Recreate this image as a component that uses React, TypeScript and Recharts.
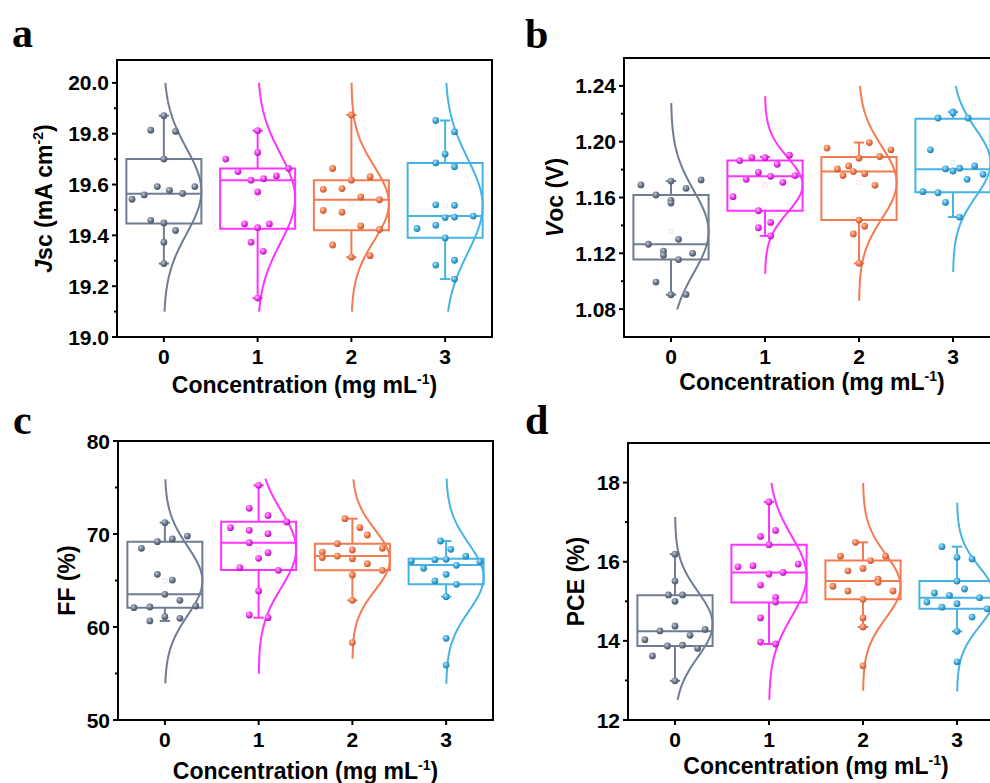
import React from "react";
import { ComposedChart, XAxis, YAxis, Scatter, Line, ReferenceArea, ReferenceLine } from "recharts";

const SANS = "Arial, 'Liberation Sans', Helvetica, sans-serif";
const SERIF = "'Times New Roman', 'Liberation Serif', serif";

const categories = [0, 1, 2, 3];
const lineColors = ["#6f7c92", "#ff33ff", "#f47a50", "#45b4e4"];
// light / mid / dark for the shaded dots
const dotColors = [
  ["#c6ccd6", "#6b778c", "#4a5466"],
  ["#ffb8ff", "#f03cf0", "#b80fb8"],
  ["#ffc7b0", "#f07a4e", "#c2552d"],
  ["#b8e4f8", "#3ea9dc", "#1f7fae"],
];

// points: [offset from category, value]
const jscPoints = [
  [[0, 19.871], [-0.14, 19.814], [0.125, 19.809], [0, 19.7], [-0.34, 19.542], [-0.21, 19.559], [-0.07, 19.592], [0.06, 19.577], [0.2, 19.565], [0.33, 19.592], [-0.14, 19.459], [0, 19.449], [0.125, 19.419], [0, 19.373], [0, 19.289]],
  [[0, 19.812], [0, 19.726], [-0.34, 19.7], [-0.21, 19.651], [-0.07, 19.617], [0.064, 19.623], [0.2, 19.634], [0.33, 19.663], [0, 19.571], [-0.14, 19.445], [0.125, 19.445], [0, 19.43], [-0.07, 19.373], [0.06, 19.337], [0, 19.153]],
  [[0, 19.874], [-0.2, 19.663], [0.2, 19.631], [0, 19.617], [-0.3, 19.581], [-0.1, 19.584], [0.1, 19.551], [0.3, 19.54], [-0.3, 19.498], [-0.1, 19.491], [0.1, 19.437], [0.3, 19.423], [-0.2, 19.362], [0.2, 19.32], [0, 19.314]],
  [[-0.1, 19.852], [0.1, 19.808], [0, 19.72], [-0.1, 19.685], [0.1, 19.67], [-0.1, 19.52], [0.1, 19.518], [0, 19.47], [0.1, 19.472], [0.3, 19.476], [-0.3, 19.427], [-0.1, 19.44], [0, 19.39], [-0.1, 19.283], [0.1, 19.302], [0.1, 19.228]],
];
// [min, q1, median, q3, max]
const jscBoxes = [
  [19.289, 19.447, 19.564, 19.7, 19.871],
  [19.153, 19.426, 19.617, 19.663, 19.812],
  [19.314, 19.42, 19.54, 19.617, 19.874],
  [19.228, 19.391, 19.476, 19.685, 19.852],
];
const jscCurveRanges = [[19.1, 20.0], [19.1, 20.0], [19.1, 20.0], [19.1, 20.0]];
const jscMajorTicks = [19.0, 19.2, 19.4, 19.6, 19.8, 20.0];
const jscMinorTicks = [19.1, 19.3, 19.5, 19.7, 19.9];

const vocPoints = [
  [[-0.32, 1.169], [0.32, 1.1726], [0.16, 1.1666], [0, 1.1718], [-0.16, 1.1618], [0, 1.158], [0, 1.156], [0.08, 1.13], [-0.24, 1.1265], [-0.08, 1.1215], [-0.08, 1.1186], [0.23, 1.12], [0.08, 1.1155], [-0.16, 1.0994], [0, 1.0903], [0.16, 1.0905]],
  [[-0.27, 1.1865], [-0.14, 1.1886], [0, 1.1885], [0.13, 1.1838], [0.26, 1.1903], [-0.07, 1.178], [0.06, 1.1752], [-0.2, 1.173], [0.19, 1.1709], [0.32, 1.1757], [-0.34, 1.1606], [-0.07, 1.1505], [0.06, 1.1421], [-0.07, 1.1383], [0.06, 1.1325]],
  [[-0.34, 1.1954], [0.11, 1.1994], [0.34, 1.1942], [0.22, 1.1894], [0, 1.1882], [-0.23, 1.1805], [-0.11, 1.1826], [-0.06, 1.1786], [-0.17, 1.1757], [0.06, 1.1771], [0.17, 1.1687], [0, 1.1438], [0.06, 1.1394], [-0.06, 1.1339], [0, 1.1128]],
  [[0, 1.2213], [0, 1.2205], [-0.16, 1.217], [0.16, 1.217], [-0.24, 1.1942], [-0.08, 1.1805], [0, 1.179], [0.07, 1.181], [0.23, 1.1826], [0.15, 1.173], [0.32, 1.1766], [-0.32, 1.1642], [-0.16, 1.1634], [-0.08, 1.1565], [0.07, 1.146]],
];
const vocBoxes = [
  [1.0903, 1.1155, 1.1265, 1.1618, 1.1718],
  [1.1325, 1.1505, 1.1752, 1.1865, 1.1891],
  [1.1128, 1.1438, 1.1786, 1.1891, 1.1994],
  [1.146, 1.1637, 1.1802, 1.2165, 1.2213],
];
const vocCurveRanges = [[1.0797, 1.2278], [1.1054, 1.2326], [1.086, 1.24], [1.1066, 1.24]];
const vocMajorTicks = [1.08, 1.12, 1.16, 1.2, 1.24];
const vocMinorTicks = [1.1, 1.14, 1.18, 1.22];

const ffPoints = [
  [[0, 71.22], [-0.08, 69.18], [0.08, 69.46], [0.24, 69.78], [-0.25, 68.46], [-0.08, 65.66], [0.08, 65.05], [0, 63.51], [0.16, 62.87], [-0.33, 62.08], [-0.16, 62.15], [0.33, 62.26], [0, 61.11], [-0.16, 60.65], [0.16, 60.93]],
  [[0, 75.23], [-0.1, 72.76], [0.1, 72.0], [0.3, 71.29], [-0.3, 70.68], [-0.1, 70.39], [0.1, 70.04], [-0.1, 69.07], [0, 67.38], [0.1, 67.99], [-0.2, 66.38], [0.21, 66.09], [0, 63.87], [-0.1, 61.29], [0.1, 61.0]],
  [[-0.08, 71.65], [0.08, 70.68], [0.16, 69.89], [-0.16, 68.96], [-0.32, 68.06], [-0.32, 67.46], [0, 68.28], [0.32, 68.46], [-0.16, 67.63], [0, 67.35], [0.16, 66.81], [0.32, 66.09], [0, 65.59], [0, 62.87], [0, 58.32]],
  [[-0.06, 69.25], [0.05, 68.35], [-0.37, 67.1], [-0.12, 67.24], [0, 67.28], [0.21, 67.63], [0.36, 67.03], [-0.24, 66.31], [0.11, 66.63], [0, 65.66], [-0.12, 64.95], [0.11, 64.59], [0, 63.26], [0, 58.78], [0, 55.91]],
];
const ffBoxes = [
  [60.65, 62.08, 63.51, 69.18, 71.22],
  [61.0, 66.13, 69.07, 71.33, 75.23],
  [62.87, 66.09, 67.63, 68.96, 71.65],
  [63.26, 64.59, 66.67, 67.35, 69.25],
];
const ffCurveRanges = [[53.94, 75.88], [54.98, 75.95], [56.6, 75.88], [53.9, 75.95]];
const ffMajorTicks = [50, 60, 70, 80];
const ffMinorTicks = [55, 65, 75];

const pcePoints = [
  [[0, 16.19], [0, 15.51], [-0.07, 15.16], [0.08, 15.16], [0, 15.0], [0, 14.37], [-0.16, 14.25], [0.32, 14.29], [0.16, 14.14], [-0.32, 14.03], [-0.08, 13.87], [0.08, 13.89], [0.24, 13.81], [-0.24, 13.62], [0, 12.99]],
  [[0, 17.51], [0.07, 16.79], [-0.09, 16.64], [0, 16.43], [-0.33, 15.87], [-0.17, 15.9], [0.31, 15.94], [0, 15.69], [0.15, 15.73], [-0.09, 15.41], [0.07, 15.1], [0.07, 14.98], [-0.09, 14.58], [-0.09, 13.97], [0.07, 13.92]],
  [[-0.08, 16.49], [-0.24, 16.14], [0.24, 16.14], [0.08, 16.03], [-0.16, 15.77], [0, 15.83], [0.16, 15.56], [0.16, 15.48], [-0.32, 15.38], [-0.16, 15.26], [0.32, 15.26], [0, 15.05], [0, 14.58], [0, 14.35], [0, 13.37]],
  [[-0.16, 16.38], [0, 16.11], [0.16, 16.07], [0, 15.51], [0.08, 15.31], [-0.24, 15.21], [-0.08, 15.15], [0.24, 15.09], [-0.32, 14.98], [-0.16, 14.85], [0, 14.94], [0.32, 14.81], [0.16, 14.6], [0, 14.24], [0, 13.47]],
];
const pceBoxes = [
  [12.99, 13.87, 14.24, 15.15, 16.19],
  [13.92, 14.97, 15.73, 16.43, 17.51],
  [14.35, 15.05, 15.51, 16.03, 16.49],
  [14.24, 14.81, 15.09, 15.51, 16.38],
];
const pceCurveRanges = [[12.51, 17.13], [12.51, 17.99], [12.74, 17.99], [12.72, 17.49]];
const pceMajorTicks = [12, 14, 16, 18];
const pceMinorTicks = [13, 15, 17];

const BOX_HALF = 0.4;
const CAP_HALF = 0.055;
const CURVE_PEAK = 0.4;
const CURVE_STEPS = 60;

function meanSd(vals: number[]) {
  const m = vals.reduce((s, v) => s + v, 0) / vals.length;
  const v = vals.reduce((s, x) => s + (x - m) * (x - m), 0) / (vals.length - 1);
  return [m, Math.sqrt(v)];
}

// fitted normal curve of a group, drawn to the right of its category
function normalCurve(c: number, range: number[], vals: number[]) {
  const [m, s] = meanSd(vals);
  const [lo, hi] = range;
  const pts = [];
  for (let i = 0; i <= CURVE_STEPS; i++) {
    const y = hi - ((hi - lo) * i) / CURVE_STEPS;
    pts.push({ x: c + CURVE_PEAK * Math.exp(-((y - m) * (y - m)) / (2 * s * s)), y });
  }
  return pts;
}

function XTick({ x, y, payload }: any) {
  return (
    <text x={x} y={y} dy="0.71em" textAnchor="middle" fontFamily={SANS} fontWeight="bold" fontSize={21} fill="#000">
      {payload.value}
    </text>
  );
}

function YTick({ x, y, payload, majors, digits }: any) {
  const v = payload.value;
  const isMajor = majors.some((t: number) => Math.abs(t - v) < 1e-9);
  const ax = x + 8;
  return (
    <g>
      <line x1={ax} x2={ax - (isMajor ? 5 : 3)} y1={y} y2={y} stroke="#000" strokeWidth={2} />
      {isMajor && (
        <text x={x} y={y} dy="0.36em" textAnchor="end" fontFamily={SANS} fontWeight="bold" fontSize={21} fill="#000">
          {v.toFixed(digits)}
        </text>
      )}
    </g>
  );
}

function YTitle({ viewBox, dx, children }: any) {
  if (!viewBox) return null;
  const cx = viewBox.x + dx;
  const cy = viewBox.y + viewBox.height / 2;
  return (
    <text
      x={cx}
      y={cy}
      dy="0.36em"
      transform={`rotate(-90, ${cx}, ${cy})`}
      textAnchor="middle"
      fontFamily={SANS}
      fontWeight="bold"
      fontSize={23}
      fill="#000"
    >
      {children}
    </text>
  );
}

function XTitle({ viewBox, dy }: any) {
  if (!viewBox) return null;
  const cx = viewBox.x + viewBox.width / 2;
  return (
    <text x={cx} y={viewBox.y + dy} textAnchor="middle" fontFamily={SANS} fontWeight="bold" fontSize={23} fill="#000">
      Concentration (mg mL
      <tspan fontSize={14} dy={-9}>-1</tspan>
      <tspan dy={9}>)</tspan>
    </text>
  );
}

function Dot({ cx, cy, fill }: any) {
  if (cx == null || cy == null) return null;
  return <circle cx={cx} cy={cy} r={3.4} fill={fill} />;
}

function MeanMark({ cx, cy, stroke }: any) {
  if (cx == null || cy == null) return null;
  return <rect x={cx - 2} y={cy - 2} width={4} height={4} fill="none" stroke={stroke} strokeOpacity={0.22} strokeWidth={0.8} />;
}

type PanelProps = {
  id: string;
  left: number;
  top: number;
  plotW: number;
  plotH: number;
  points: number[][][];
  boxes: number[][];
  ranges: number[][];
  domain: number[];
  majors: number[];
  minors: number[];
  digits: number;
  yTitle: React.ReactNode;
  yTitleDx: number;
  xTitleDy: number;
};

function Panel(p: PanelProps) {
  const ticks = [...p.majors, ...p.minors].sort((a, b) => a - b);
  return (
    <div style={{ position: "absolute", left: p.left - 110, top: p.top - 20 }}>
      <ComposedChart width={p.plotW + 120} height={p.plotH + 90} margin={{ top: 20, right: 10, bottom: 0, left: 0 }}>
        <defs>
          {dotColors.map((c, g) => (
            <radialGradient key={g} id={`${p.id}-dot-${g}`} cx="38%" cy="35%" r="65%">
              <stop offset="0%" stopColor={c[0]} />
              <stop offset="55%" stopColor={c[1]} />
              <stop offset="100%" stopColor={c[2]} />
            </radialGradient>
          ))}
        </defs>
        <XAxis
          dataKey="x"
          type="number"
          domain={[-0.5, 3.5]}
          ticks={categories}
          allowDataOverflow
          height={70}
          tickSize={5}
          tickMargin={7}
          tickLine={{ stroke: "#000", strokeWidth: 2 }}
          axisLine={{ stroke: "#000", strokeWidth: 2 }}
          tick={<XTick />}
          label={{ content: (lp: any) => <XTitle {...lp} dy={p.xTitleDy} /> }}
        />
        <YAxis
          dataKey="y"
          type="number"
          domain={p.domain}
          ticks={ticks}
          allowDataOverflow
          width={110}
          tickSize={5}
          tickMargin={3}
          tickLine={false}
          axisLine={{ stroke: "#000", strokeWidth: 2 }}
          tick={<YTick majors={p.majors} digits={p.digits} />}
          label={{ content: (lp: any) => <YTitle {...lp} dx={p.yTitleDx}>{p.yTitle}</YTitle> }}
        />
        <ReferenceArea x1={-0.5} x2={3.5} y1={p.domain[0]} y2={p.domain[1]} fill="none" stroke="#000" strokeWidth={2} ifOverflow="visible" />
        {p.boxes.map((b, g) => {
          const c = categories[g];
          const col = lineColors[g];
          return [
            <ReferenceArea key={`box${g}`} x1={c - BOX_HALF} x2={c + BOX_HALF} y1={b[1]} y2={b[3]} fill="none" fillOpacity={0} stroke={col} strokeWidth={2} />,
            <ReferenceLine key={`med${g}`} segment={[{ x: c - BOX_HALF, y: b[2] }, { x: c + BOX_HALF, y: b[2] }]} stroke={col} strokeWidth={2} />,
            <ReferenceLine key={`wu${g}`} segment={[{ x: c, y: b[3] }, { x: c, y: b[4] }]} stroke={col} strokeWidth={2} />,
            <ReferenceLine key={`wl${g}`} segment={[{ x: c, y: b[0] }, { x: c, y: b[1] }]} stroke={col} strokeWidth={2} />,
            <ReferenceLine key={`cu${g}`} segment={[{ x: c - CAP_HALF, y: b[4] }, { x: c + CAP_HALF, y: b[4] }]} stroke={col} strokeWidth={2} />,
            <ReferenceLine key={`cl${g}`} segment={[{ x: c - CAP_HALF, y: b[0] }, { x: c + CAP_HALF, y: b[0] }]} stroke={col} strokeWidth={2} />,
          ];
        })}
        {p.points.map((pts, g) => (
          <Line
            key={`curve${g}`}
            data={normalCurve(categories[g], p.ranges[g], pts.map((q) => q[1]))}
            dataKey="y"
            type="linear"
            stroke={lineColors[g]}
            strokeWidth={2}
            dot={false}
            activeDot={false}
            isAnimationActive={false}
          />
        ))}
        {p.points.map((pts, g) => (
          <Scatter
            key={`mean${g}`}
            data={[{ x: categories[g], y: meanSd(pts.map((q) => q[1]))[0] }]}
            dataKey="y"
            shape={(sp: any) => <MeanMark {...sp} stroke={lineColors[g]} />}
            isAnimationActive={false}
          />
        ))}
        {p.points.map((pts, g) => (
          <Scatter
            key={`pts${g}`}
            data={pts.map((q) => ({ x: categories[g] + q[0], y: q[1] }))}
            dataKey="y"
            shape={(sp: any) => <Dot {...sp} fill={`url(#${p.id}-dot-${g})`} />}
            isAnimationActive={false}
          />
        ))}
      </ComposedChart>
    </div>
  );
}

const letters = [
  { t: "a", x: 12, y: 47 },
  { t: "b", x: 525, y: 48 },
  { t: "c", x: 13, y: 434 },
  { t: "d", x: 525, y: 434 },
];

export default function App() {
  return (
    <div style={{ position: "absolute", left: 0, top: 0, width: 990, height: 783, overflow: "hidden", background: "#fff" }}>
      <Panel
        id="jsc"
        left={117}
        top={60}
        plotW={375}
        plotH={277}
        points={jscPoints}
        boxes={jscBoxes}
        ranges={jscCurveRanges}
        domain={[19.0, 20.09]}
        majors={jscMajorTicks}
        minors={jscMinorTicks}
        digits={1}
        yTitleDx={37}
        xTitleDy={56}
        yTitle={
          <>
            <tspan fontStyle="italic">J</tspan>sc (mA cm
            <tspan fontSize={14} dy={-9}>-2</tspan>
            <tspan dy={9}>)</tspan>
          </>
        }
      />
      <Panel
        id="voc"
        left={624}
        top={58}
        plotW={376}
        plotH={279}
        points={vocPoints}
        boxes={vocBoxes}
        ranges={vocCurveRanges}
        domain={[1.06, 1.26]}
        majors={vocMajorTicks}
        minors={vocMinorTicks}
        digits={2}
        yTitleDx={41}
        xTitleDy={53}
        yTitle={
          <>
            <tspan fontStyle="italic">V</tspan>oc (V)
          </>
        }
      />
      <Panel
        id="ff"
        left={118}
        top={441}
        plotW={375}
        plotH={279}
        points={ffPoints}
        boxes={ffBoxes}
        ranges={ffCurveRanges}
        domain={[50, 80]}
        majors={ffMajorTicks}
        minors={ffMinorTicks}
        digits={0}
        yTitleDx={59}
        xTitleDy={59}
        yTitle={<>FF (%)</>}
      />
      <Panel
        id="pce"
        left={628}
        top={443}
        plotW={376}
        plotH={277}
        points={pcePoints}
        boxes={pceBoxes}
        ranges={pceCurveRanges}
        domain={[12, 19]}
        majors={pceMajorTicks}
        minors={pceMinorTicks}
        digits={0}
        yTitleDx={58}
        xTitleDy={54}
        yTitle={<>PCE (%)</>}
      />
      <svg width={990} height={783} style={{ position: "absolute", left: 0, top: 0, pointerEvents: "none" }}>
        {letters.map((l) => (
          <text key={l.t} x={l.x} y={l.y} fontFamily={SERIF} fontWeight="bold" fontSize={42} fill="#000">
            {l.t}
          </text>
        ))}
      </svg>
    </div>
  );
}
